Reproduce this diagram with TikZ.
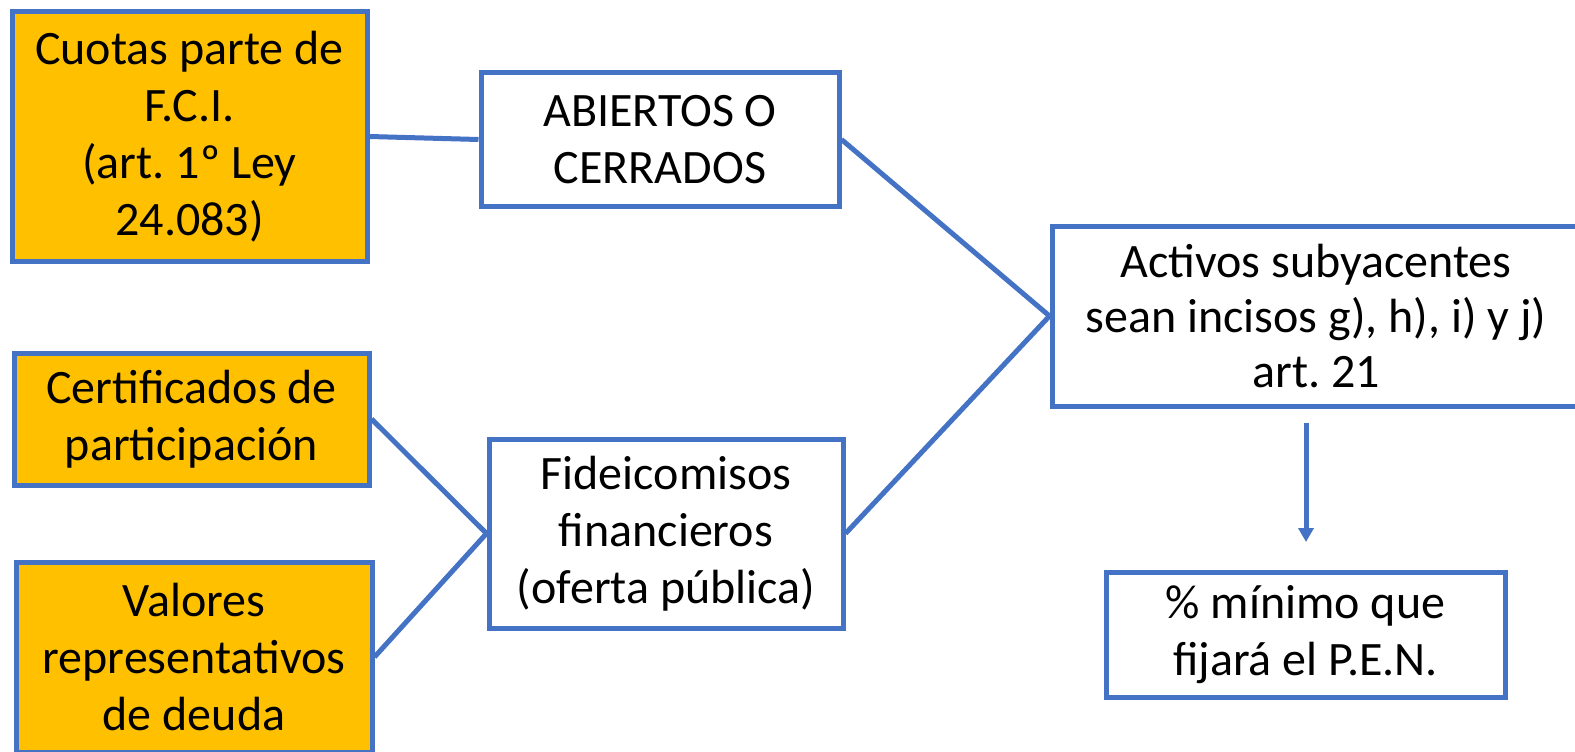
\documentclass[tikz,border=0pt]{standalone}
\usepackage{fontspec}
\setmainfont{Carlito}
\usepackage{tikz}
\usetikzlibrary{arrows.meta}
\frenchspacing
\definecolor{azulcaja}{HTML}{4472C4}
\definecolor{naranja}{HTML}{FFC000}
\tikzset{
	caja/.style={draw=azulcaja, line width=5pt, align=center, inner sep=0pt, font=\fontsize{48}{57}\selectfont},
	cajanar/.style={caja, fill=naranja},
	enlace/.style={draw=azulcaja, line width=5pt},
}

\begin{document}
\begin{tikzpicture}[x=1pt, y=-1pt]
			%%%%% START %%%%%
			\useasboundingbox (0, 0) rectangle (1575, 752);
			
			\node[cajanar, minimum width=355, minimum height=249] (cuotas) at (189.5, 136.5) {Cuotas parte de\\F.C.I.\\(art. 1º Ley\\24.083)};
			\node[caja, minimum width=358, minimum height=133] (abiertos) at (660, 139.5) {ABIERTOS O\\CERRADOS};
			
			\node[cajanar, minimum width=355, minimum height=132] (certif) at (191.5, 419) {Certificados de\\participación};
			\node[cajanar, minimum width=356, minimum height=190] (valores) at (194, 657) {Valores\\representativos\\de deuda};
			\node[caja, minimum width=354, minimum height=189] (fideic) at (666, 533.5) {Fideicomisos\\financieros\\(oferta pública)};
			
			\node[caja, minimum width=528, minimum height=180, font=\fontsize{48}{55}\selectfont] (activos) at (1316, 316) {Activos subyacentes\\sean incisos g), h), i) y j)\\art. 21};
			\node[caja, minimum width=399, minimum height=125] (pen) at (1305.5, 634.5) {\% mínimo que\\fijará el P.E.N.};
			
			\draw[enlace] (cuotas.east) -- (abiertos.west);
			\draw[enlace] (certif.east) -- (fideic.west);
			\draw[enlace] (valores.east) -- (fideic.west);
			\draw[enlace] (abiertos.east) -- (activos.west);
			\draw[enlace] (fideic.east) -- (activos.west);
			
			\coordinate (punta) at (1306, 542);
			\draw[enlace, -{Triangle[width=15pt, length=14pt]}, shorten <=14pt] (activos.south -| punta) -- (punta);
			
			%%%%% END %%%%%
\end{tikzpicture}
\end{document}
